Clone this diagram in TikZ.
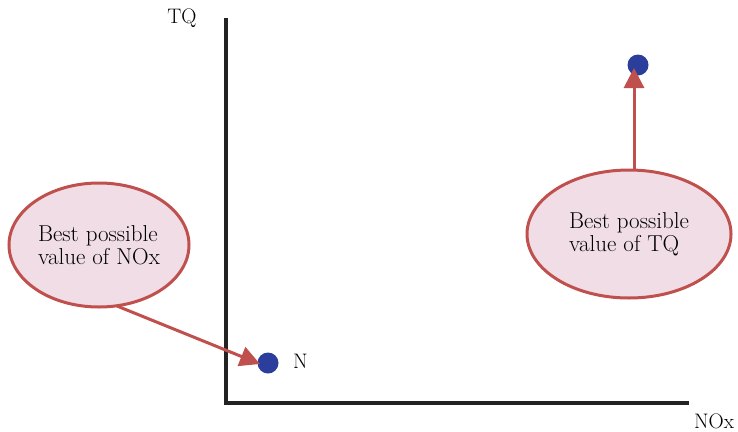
\documentclass[tikz,border=0pt]{standalone}
\usepackage{fontspec}
\usetikzlibrary{arrows.meta,shapes.geometric}
\definecolor{callred}{RGB}{192,80,77}
\definecolor{callfill}{RGB}{240,221,230}
\definecolor{dotblue}{RGB}{44,62,155}
\definecolor{axisgray}{RGB}{35,35,35}
\begin{document}
\begin{tikzpicture}[x=1pt,y=-1pt,
  callout/.style={ellipse, draw=callred, fill=callfill, line width=3pt, align=left, inner sep=0pt,
    font=\fontsize{23}{23}\selectfont},
  dotnode/.style={circle, fill=dotblue, minimum size=21pt, inner sep=0pt},
  lbl/.style={font=\fontsize{21}{22}\selectfont, inner sep=0pt},
  axis/.style={draw=axisgray, line width=3.5pt},
  callarrow/.style={draw=callred, line width=3pt, -{Triangle[length=20pt,width=20pt]}}]
\useasboundingbox (0,0) rectangle (738,431);
\coordinate (top) at (226,18);
\coordinate (origin) at (226,403);
\coordinate (right) at (689,403);
\draw[axis] (top) -- (origin) -- (right);
\node[lbl] (tq) at (182,18) {TQ};
\node[lbl] (nox) at (714,421) {NOx};
\node[dotnode] (n) at (268,363) {};
\node[lbl, anchor=west] (nlabel) at (293,361) {N};
\node[dotnode] (t) at (638,65) {};
\node[callout, minimum width=180pt, minimum height=124pt] (e1) at (99,245) {Best possible\\value of NOx};
\node[callout, minimum width=204pt, minimum height=128pt] (e2) at (629,234) {Best possible\\value of TQ};
\path[callarrow] (117,306) -- (260,364);
\path[callarrow] (634,171) -- (634,68);
\end{tikzpicture}
\end{document}
